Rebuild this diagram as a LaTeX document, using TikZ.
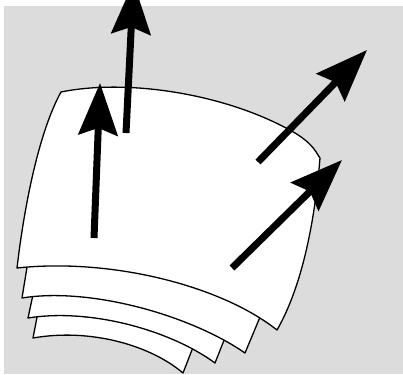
\documentclass[tikz,border=0pt]{standalone}
\usetikzlibrary{arrows.meta}
\definecolor{panel}{RGB}{220,220,220}
\tikzset{
  sheet/.style={fill=white, draw=black, line width=1.3pt, line join=round},
  push/.style={line width=7pt, -{Stealth[length=52pt, width=39pt, inset=7pt]}},
}
\begin{document}
\begin{tikzpicture}[x=1pt, y=-1pt]
  \useasboundingbox (0,0) rectangle (403,374);
  \clip (0,0) rectangle (403,374);
  % backdrop
  \fill[white] (0,0) rectangle (403,374);
  \fill[panel] (4,6) rectangle (403,374);

  % stacked sheets, back to front
  \draw[sheet] (38,312) -- (33,338) .. controls (90,328) and (150,345) .. (183,373)
               -- (197,337) -- (120,320) -- cycle;
  \draw[sheet] (34,290) -- (28,318) .. controls (90,308) and (170,330) .. (215,363)
               -- (232,320) -- (120,300) -- cycle;
  \draw[sheet] (29,255) -- (22,298) .. controls (90,287) and (190,315) .. (245,353)
               -- (268,298) -- (150,260) -- cycle;
  % top sheet
  \draw[sheet] (61,92) .. controls (130,78) and (230,95) .. (295,133)
               .. controls (305,139) and (313,146) .. (318,155) -- (320,158)
               .. controls (314,230) and (300,290) .. (277,330)
               .. controls (220,285) and (110,258) .. (17,268)
               .. controls (25,200) and (40,130) .. cycle;

  % arrows
  \coordinate (a1s) at (94,238);  \coordinate (a1t) at (100,83);
  \coordinate (a2s) at (126,133); \coordinate (a2t) at (133.5,-18);
  \coordinate (a3s) at (258,162); \coordinate (a3t) at (367,50);
  \coordinate (a4s) at (232,268); \coordinate (a4t) at (342,160);
  \draw[push] (a1s) -- (a1t);
  \draw[push] (a2s) -- (a2t);
  \draw[push] (a3s) -- (a3t);
  \draw[push] (a4s) -- (a4t);
\end{tikzpicture}
\end{document}
